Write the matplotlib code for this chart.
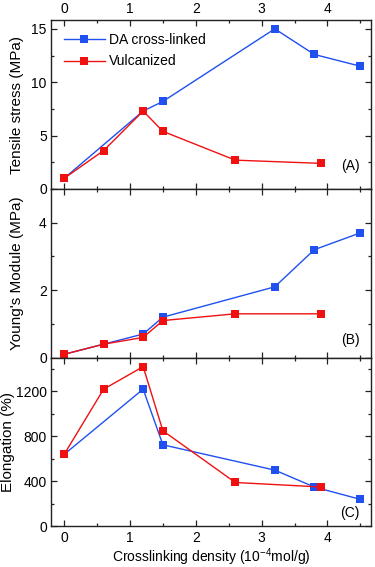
import matplotlib

matplotlib.use("Agg")

import matplotlib.pyplot as plt
from matplotlib.ticker import MultipleLocator

plt.rcParams["font.family"] = ["Liberation Sans", "DejaVu Sans"]
plt.rcParams["font.size"] = 10

# crosslinking density (10^-4 mol/g)
x_da = [0, 1.2, 1.5, 3.2, 3.8, 4.5]
x_vul = [0, 0.6, 1.2, 1.5, 2.6, 3.9]

# (A) tensile stress, MPa
stress_da = [1.0, 7.3, 8.2, 15.0, 12.6, 11.5]
stress_vul = [1.0, 3.6, 7.3, 5.4, 2.7, 2.4]

# (B) Young's module, MPa
modulus_da = [0.1, 0.7, 1.2, 2.1, 3.2, 3.7]
modulus_vul = [0.1, 0.4, 0.6, 1.1, 1.3, 1.3]

# (C) elongation, %
elong_da = [640, 1220, 725, 500, 350, 240]
elong_vul = [640, 1220, 1420, 850, 390, 350]

BLUE = "#2050f0"
RED = "#f01010"

fig = plt.figure(figsize=(3.75, 5.67), dpi=100)
left, width, height = 0.136, 0.853, 0.2975
bottoms = [0.6667, 0.3692, 0.0717]
axes = [fig.add_axes([left, b, width, height]) for b in bottoms]

panels = [
    (stress_da, stress_vul, "Tensile stress (MPa)", (0, 15.8), 5, 2.5, "(A)", 0.135, -0.085),
    (modulus_da, modulus_vul, "Young's Module (MPa)", (0, 5.0), 2, 1, "(B)", 0.105, -0.085),
    (elong_da, elong_vul, "Elongation (%)", (0, 1500), 400, 200, "(C)", 0.08, -0.112),
]

for i, (ax, (da, vul, ylabel, ylim, major, minor, tag, tag_y, lab_x)) in enumerate(zip(axes, panels)):
    ax.plot(x_da, da, color=BLUE, marker="s", markersize=5.2, lw=1.0,
            markeredgewidth=0, label="DA cross-linked")
    ax.plot(x_vul, vul, color=RED, marker="s", markersize=5.2, lw=1.0,
            markeredgewidth=0, label="Vulcanized")
    ax.set_xlim(-0.2, 4.66)
    ax.set_ylim(*ylim)
    ax.xaxis.set_major_locator(MultipleLocator(1))
    ax.xaxis.set_minor_locator(MultipleLocator(0.5))
    ax.yaxis.set_major_locator(MultipleLocator(major))
    ax.yaxis.set_minor_locator(MultipleLocator(minor))
    ax.tick_params(which="both", direction="in", top=True, right=True,
                   labeltop=(i == 0), labelbottom=(i == 2), labelsize=10,
                   color="#222222", width=0.9, pad=3)
    ax.tick_params(which="major", length=4)
    ax.tick_params(which="minor", length=2.5)
    for s in ax.spines.values():
        s.set_linewidth(1.0)
        s.set_color("#222222")
    ax.set_ylabel(ylabel, fontsize=11)
    ax.yaxis.set_label_coords(lab_x, 0.5)
    ax.text(0.965, tag_y, tag, transform=ax.transAxes, ha="right", va="center",
            fontsize=10)

axes[0].legend(loc="upper left", frameon=False, fontsize=10, handlelength=3.0,
               handletextpad=0.3, borderaxespad=0.5, borderpad=0.4,
               labelspacing=0.55)
axes[2].set_xlabel("Crosslinking density (10$^{\\mathregular{-4}}$mol/g)",
                   fontsize=10, labelpad=1)

fig.savefig("out.png", dpi=100)
